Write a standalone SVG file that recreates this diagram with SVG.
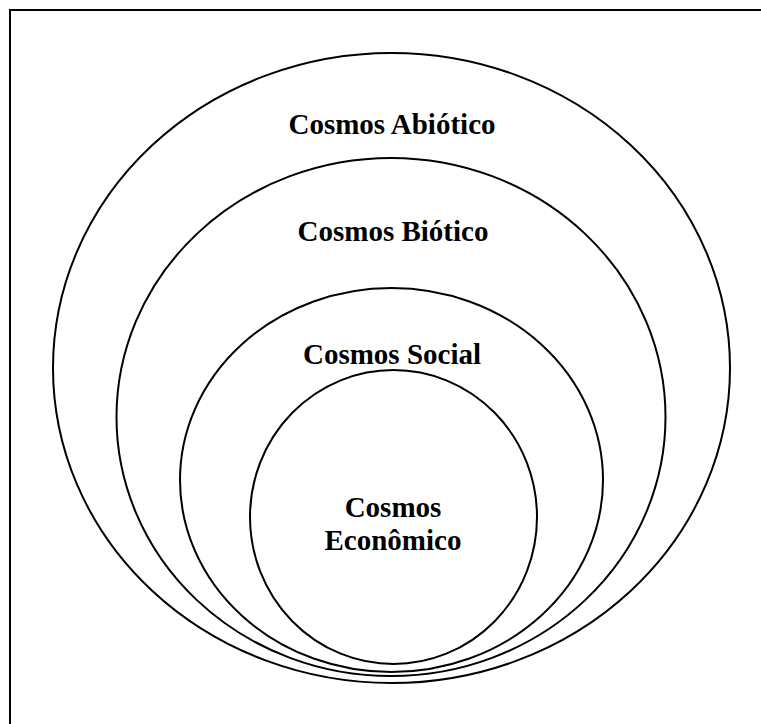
<svg xmlns="http://www.w3.org/2000/svg" width="761" height="724" viewBox="0 0 761 724">
<style>
.ring{fill:none;stroke:#000;stroke-width:2}
.lbl{font-family:"Liberation Serif","Times New Roman",serif;font-weight:bold;font-size:29px;fill:#000;text-anchor:middle}
</style>
<rect width="761" height="724" fill="#fff"/>
<g id="frame"><path d="M10,724 V10 H761" fill="none" stroke="#000" stroke-width="2"/></g>
<g id="abiotico"><ellipse class="ring" cx="391.5" cy="368" rx="338.5" ry="315"/><text class="lbl" x="392" y="134">Cosmos Abiótico</text></g>
<g id="biotico"><ellipse class="ring" cx="391" cy="417" rx="274.5" ry="259"/><text class="lbl" x="393" y="241">Cosmos Biótico</text></g>
<g id="social"><ellipse class="ring" cx="391.5" cy="480" rx="211.5" ry="192"/><text class="lbl" x="392" y="364">Cosmos Social</text></g>
<g id="economico"><ellipse class="ring" cx="393.5" cy="517" rx="143.5" ry="147"/><text class="lbl" x="393" y="517">Cosmos</text><text class="lbl" x="393" y="550">Econômico</text></g>
<g id="connectors"/>
</svg>
